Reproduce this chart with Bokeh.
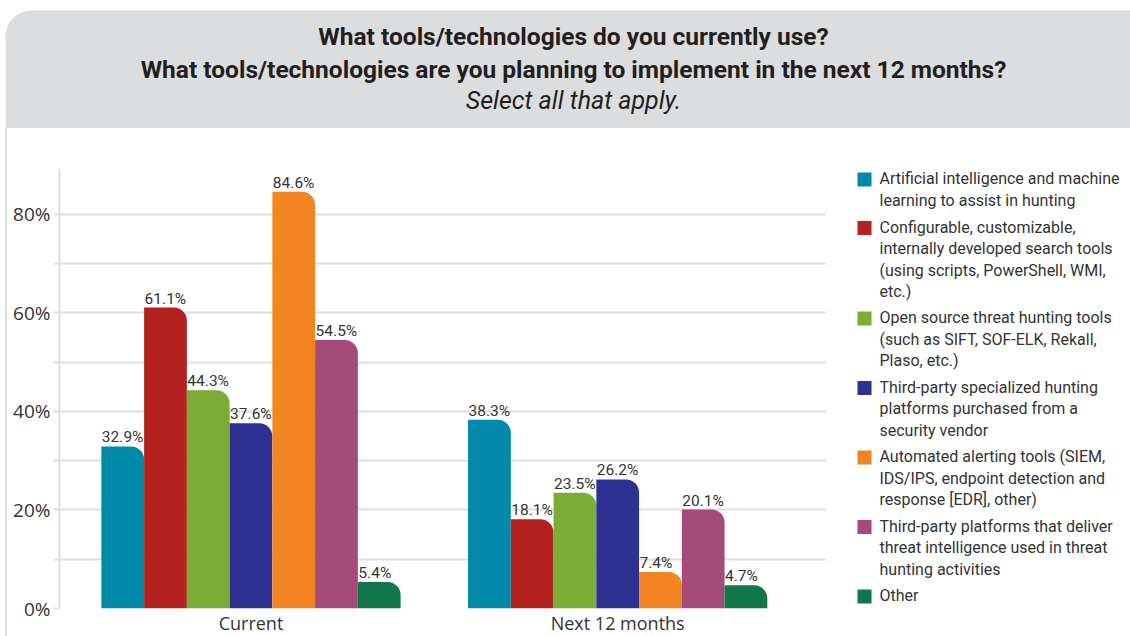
from bokeh.plotting import figure
from bokeh.layouts import column, row
from bokeh.models import Range1d, FixedTicker, ColumnDataSource, Spacer
from bokeh.core.properties import value
from bokeh.embed import file_html
from bokeh.resources import INLINE

# ---------------- data ----------------
title_lines = ["What tools/technologies do you currently use?",
               "What tools/technologies are you planning to implement in the next 12 months?"]
subtitle = "Select all that apply."
periods = ["Current", "Next 12 months"]
series = [
    "Artificial intelligence and machine\nlearning to assist in hunting",
    "Configurable, customizable,\ninternally developed search tools\n(using scripts, PowerShell, WMI,\netc.)",
    "Open source threat hunting tools\n(such as SIFT, SOF-ELK, Rekall,\nPlaso, etc.)",
    "Third-party specialized hunting\nplatforms purchased from a\nsecurity vendor",
    "Automated alerting tools (SIEM,\nIDS/IPS, endpoint detection and\nresponse [EDR], other)",
    "Third-party platforms that deliver\nthreat intelligence used in threat\nhunting activities",
    "Other",
]
colors = ["#0089A8", "#B3221F", "#7BAD36", "#2E3192", "#F28522", "#A64A7A", "#11774B"]
current = [32.9, 61.1, 44.3, 37.6, 84.6, 54.5, 5.4]
next_12 = [38.3, 18.1, 23.5, 26.2, 7.4, 20.1, 4.7]
y_ticks = [0, 20, 40, 60, 80]
y_minor_ticks = [10, 30, 50, 70]
y_tick_labels = ["0%", "20%", "40%", "60%", "80%"]

BODY = "Roboto"
SANS = "Open Sans"
TXT = "#333333"
GRID = "#dedede"

W = 1130

# ---------------- header ----------------
head = figure(width=W, height=128, x_range=Range1d(0, W), y_range=Range1d(0, 128),
              output_backend="svg", toolbar_location=None,
              x_axis_location=None, y_axis_location=None, min_border=0)
head.grid.visible = False
head.outline_line_color = None
head.background_fill_color = "white"
head.border_fill_color = "white"
head.quad(left=[5], right=[W + 60], bottom=[0], top=[118], fill_color="#dcdddf",
          line_color=None, border_radius=(26, 0, 0, 0))
head.text(x=[573, 573], y=[92, 59], text=title_lines,
          text_font=value(BODY), text_font_style="bold", text_font_size="24.5px",
          text_color="#231f20", text_align="center", text_baseline="middle")
head.text(x=[573], y=[28], text=[subtitle],
          text_font=value(BODY), text_font_style="italic", text_font_size="25px",
          text_color="#231f20", text_align="center", text_baseline="middle")

# ---------------- left border strip ----------------
strip = Spacer(width=7, height=508,
               styles={"background": "linear-gradient(to right, #ffffff 0px, #ffffff 5px, #dcdcdc 5px, #dcdcdc 7px)"})

# ---------------- main chart ----------------
px_per_unit = 366.7
bar_w = 42.75 / px_per_unit
p = figure(frame_width=767, frame_height=440,
           x_range=Range1d(-0.5222, 1.5694), y_range=Range1d(0, 89.34),
           output_backend="svg", toolbar_location=None,
           min_border_left=52, min_border_right=0, min_border_top=40, min_border_bottom=0)
p.outline_line_color = None
p.background_fill_color = "white"
p.border_fill_color = "white"

n = len(series)
for i in range(n):
    xs = [k + (i - (n - 1) / 2) * bar_w for k in range(len(periods))]
    tops = [current[i], next_12[i]]
    src = ColumnDataSource(dict(x=xs, top=tops,
                                xl=[x - bar_w / 2 for x in xs],
                                lab=[f"{v}%" for v in tops]))
    p.vbar(x="x", top="top", width=bar_w, source=src, fill_color=colors[i],
           line_color=None, border_radius=(0, 13, 0, 0))
    p.text(x="xl", y="top", text="lab", source=src, x_offset=0.5, y_offset=0,
           text_font=value(BODY), text_font_size="15.5px", text_color=TXT,
           text_align="left", text_baseline="bottom")

# y axis
yt = FixedTicker(ticks=y_ticks, minor_ticks=y_minor_ticks)
p.yaxis.ticker = yt
p.yaxis.major_label_overrides = {t: l for t, l in zip(y_ticks, y_tick_labels)}
p.yaxis.axis_line_color = GRID
p.yaxis.axis_line_width = 2
p.yaxis.major_tick_line_color = GRID
p.yaxis.major_tick_line_width = 2
p.yaxis.major_tick_out = 6
p.yaxis.major_tick_in = 0
p.yaxis.minor_tick_line_color = GRID
p.yaxis.minor_tick_line_width = 2
p.yaxis.minor_tick_out = 6
p.yaxis.minor_tick_in = 0
p.yaxis.major_label_standoff = 3
p.yaxis.major_label_text_font = SANS
p.yaxis.major_label_text_font_size = "19px"
p.yaxis.major_label_text_color = TXT

# x axis
p.xaxis.ticker = FixedTicker(ticks=list(range(len(periods))))
p.xaxis.major_label_overrides = {k: lab for k, lab in enumerate(periods)}
p.xaxis.axis_line_color = None
p.xaxis.major_tick_line_color = None
p.xaxis.major_tick_out = 0
p.xaxis.major_tick_in = 0
p.xaxis.minor_tick_line_color = None
p.xaxis.minor_tick_out = 0
p.xaxis.major_label_standoff = 2
p.xaxis.major_label_text_font = SANS
p.xaxis.major_label_text_font_size = "18px"
p.xaxis.major_label_text_color = TXT

p.xgrid.visible = False
p.ygrid.ticker = yt
p.ygrid.grid_line_color = GRID
p.ygrid.grid_line_width = 2
p.ygrid.minor_grid_line_color = GRID
p.ygrid.minor_grid_line_width = 2

# ---------------- legend (own panel, frame aligned with chart frame) ----------------
leg = figure(frame_width=304, frame_height=440, x_range=Range1d(826, 1130), y_range=Range1d(608, 168),
             output_backend="svg", toolbar_location=None,
             x_axis_location=None, y_axis_location=None,
             min_border_left=0, min_border_right=0, min_border_top=40, min_border_bottom=0)
leg.grid.visible = False
leg.outline_line_color = None
leg.background_fill_color = "white"
leg.border_fill_color = "white"
line_h = 21.0
gap = 6.5
centers = []
yc = 179.0
for s in series:
    centers.append(yc)
    yc += len(s.split("\n")) * line_h + gap
leg.scatter(x=[864] * n, y=centers, marker="square", size=14, fill_color=colors, line_color=None)
leg.text(x=[879] * n, y=[c - line_h / 2 for c in centers], text=series,
         text_font=value(BODY), text_font_size="16px", text_color=TXT,
         text_align="left", text_baseline="top", text_line_height=1.14)

layout = column(head, row(strip, p, leg, spacing=0), spacing=0)
open("out.html", "w").write(file_html(layout, INLINE))
